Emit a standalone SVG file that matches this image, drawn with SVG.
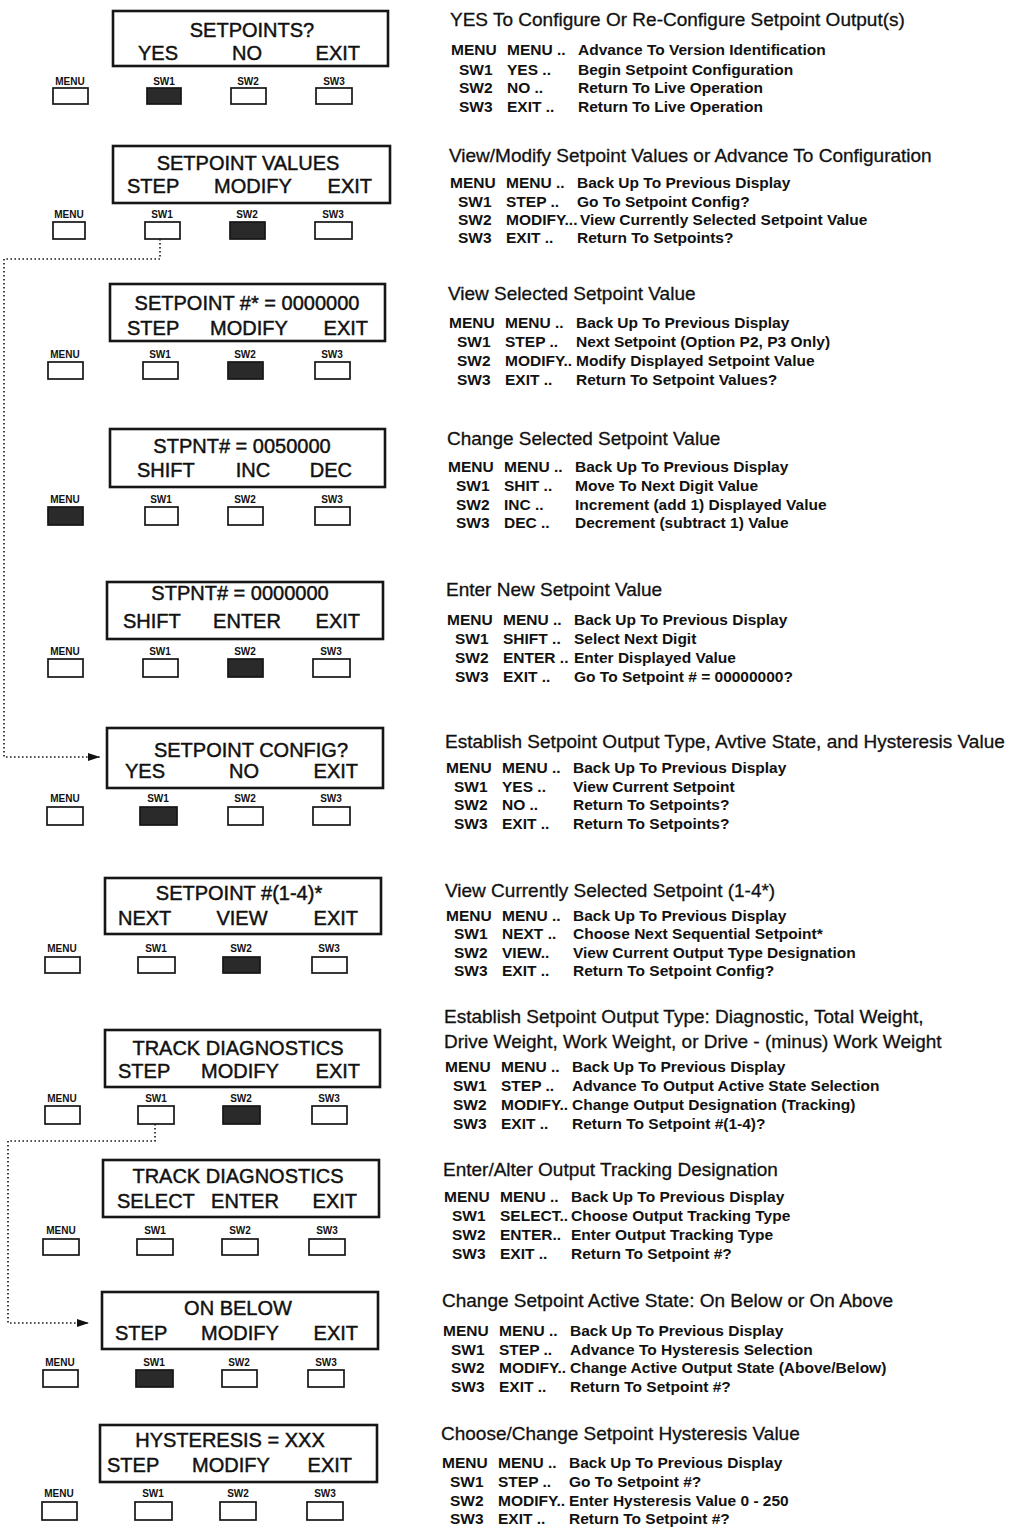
<svg xmlns="http://www.w3.org/2000/svg" width="1010" height="1528" viewBox="0 0 1010 1528">
<style>
.bg{fill:#fff}
.disp{fill:none;stroke:#161616;stroke-width:2.6}
.dt{font-family:"Liberation Sans",Arial,sans-serif;font-size:20px;fill:#111;stroke:#111;stroke-width:0.45}
.mid{text-anchor:middle}
.end{text-anchor:end}
.btn{fill:#fff;stroke:#161616;stroke-width:1.7}
.on{fill:#2a2a2a}
.bl{font-family:"Liberation Sans",Arial,sans-serif;font-size:10px;font-weight:bold;fill:#111;text-anchor:middle}
.h{font-family:"Liberation Sans",Arial,sans-serif;font-size:19px;fill:#111;stroke:#111;stroke-width:0.3}
.r{font-family:"Liberation Sans",Arial,sans-serif;font-size:15.5px;font-weight:bold;fill:#111}
.conn{fill:none;stroke:#222;stroke-width:1.7;stroke-dasharray:1.6 2.4}
</style>
<defs>
<marker id="arr" markerWidth="12" markerHeight="8" refX="12" refY="4" orient="auto" markerUnits="userSpaceOnUse">
<path d="M0,0 L12,4 L0,8 Z" fill="#111"/>
</marker>
</defs>
<rect class="bg" x="0" y="0" width="1010" height="1528"/>

<g id="connectors">
<path class="conn" d="M160,231 V259 H4 V757 H100" marker-end="url(#arr)"/>
<path class="conn" d="M155,1116 V1141 H8 V1323 H89" marker-end="url(#arr)"/>
</g>

<g id="d1">
<rect class="disp" x="113" y="11" width="275" height="55"/>
<text class="dt mid" x="252" y="37">SETPOINTS?</text>
<text class="dt mid" x="158" y="60">YES</text><text class="dt mid" x="247" y="60">NO</text><text class="dt end" x="360" y="60">EXIT</text>
<text class="bl" x="70" y="85">MENU</text><rect class="btn" x="53" y="88" width="35" height="16"/>
<text class="bl" x="164" y="85">SW1</text><rect class="btn on" x="147" y="88" width="34" height="16"/>
<text class="bl" x="248" y="85">SW2</text><rect class="btn" x="231" y="88" width="35" height="16"/>
<text class="bl" x="334" y="85">SW3</text><rect class="btn" x="316" y="88" width="36" height="16"/>
</g>

<g id="d2">
<rect class="disp" x="113" y="146" width="277" height="57"/>
<text class="dt mid" x="248" y="170">SETPOINT VALUES</text>
<text class="dt" x="127" y="193">STEP</text><text class="dt mid" x="253" y="193">MODIFY</text><text class="dt end" x="372" y="193">EXIT</text>
<text class="bl" x="69" y="218">MENU</text><rect class="btn" x="53" y="222" width="32" height="17"/>
<text class="bl" x="162" y="218">SW1</text><rect class="btn" x="145" y="222" width="35" height="17"/>
<text class="bl" x="247" y="218">SW2</text><rect class="btn on" x="230" y="222" width="35" height="17"/>
<text class="bl" x="333" y="218">SW3</text><rect class="btn" x="315" y="222" width="37" height="17"/>
</g>

<g id="d3">
<rect class="disp" x="110" y="284" width="275" height="57"/>
<text class="dt mid" x="247" y="310">SETPOINT #* = 0000000</text>
<text class="dt" x="127" y="335">STEP</text><text class="dt mid" x="249" y="335">MODIFY</text><text class="dt end" x="368" y="335">EXIT</text>
<text class="bl" x="65" y="358">MENU</text><rect class="btn" x="48" y="362" width="35" height="17"/>
<text class="bl" x="160" y="358">SW1</text><rect class="btn" x="143" y="362" width="35" height="17"/>
<text class="bl" x="245" y="358">SW2</text><rect class="btn on" x="228" y="362" width="35" height="17"/>
<text class="bl" x="332" y="358">SW3</text><rect class="btn" x="315" y="362" width="35" height="17"/>
</g>

<g id="d4">
<rect class="disp" x="110" y="429" width="275" height="58"/>
<text class="dt mid" x="242" y="453">STPNT# = 0050000</text>
<text class="dt" x="137" y="477">SHIFT</text><text class="dt mid" x="253" y="477">INC</text><text class="dt end" x="352" y="477">DEC</text>
<text class="bl" x="65" y="503">MENU</text><rect class="btn on" x="48" y="507" width="35" height="18"/>
<text class="bl" x="161" y="503">SW1</text><rect class="btn" x="145" y="507" width="33" height="18"/>
<text class="bl" x="245" y="503">SW2</text><rect class="btn" x="228" y="507" width="35" height="18"/>
<text class="bl" x="332" y="503">SW3</text><rect class="btn" x="315" y="507" width="35" height="18"/>
</g>

<g id="d5">
<rect class="disp" x="107" y="582" width="276" height="57"/>
<text class="dt mid" x="240" y="600">STPNT# = 0000000</text>
<text class="dt" x="123" y="628">SHIFT</text><text class="dt mid" x="247" y="628">ENTER</text><text class="dt end" x="360" y="628">EXIT</text>
<text class="bl" x="65" y="655">MENU</text><rect class="btn" x="48" y="659" width="35" height="18"/>
<text class="bl" x="160" y="655">SW1</text><rect class="btn" x="143" y="659" width="35" height="18"/>
<text class="bl" x="245" y="655">SW2</text><rect class="btn on" x="228" y="659" width="35" height="18"/>
<text class="bl" x="331" y="655">SW3</text><rect class="btn" x="313" y="659" width="37" height="18"/>
</g>

<g id="d6">
<rect class="disp" x="107" y="728" width="276" height="60"/>
<text class="dt mid" x="251" y="757">SETPOINT CONFIG?</text>
<text class="dt" x="125" y="778">YES</text><text class="dt mid" x="244" y="778">NO</text><text class="dt end" x="358" y="778">EXIT</text>
<text class="bl" x="65" y="802">MENU</text><rect class="btn" x="47" y="807" width="36" height="18"/>
<text class="bl" x="158" y="802">SW1</text><rect class="btn on" x="140" y="807" width="37" height="18"/>
<text class="bl" x="245" y="802">SW2</text><rect class="btn" x="228" y="807" width="35" height="18"/>
<text class="bl" x="331" y="802">SW3</text><rect class="btn" x="313" y="807" width="37" height="18"/>
</g>

<g id="d7">
<rect class="disp" x="105" y="878" width="276" height="56"/>
<text class="dt mid" x="239" y="900">SETPOINT #(1-4)*</text>
<text class="dt" x="118" y="925">NEXT</text><text class="dt mid" x="242" y="925">VIEW</text><text class="dt end" x="358" y="925">EXIT</text>
<text class="bl" x="62" y="952">MENU</text><rect class="btn" x="45" y="957" width="35" height="16"/>
<text class="bl" x="156" y="952">SW1</text><rect class="btn" x="138" y="957" width="37" height="16"/>
<text class="bl" x="241" y="952">SW2</text><rect class="btn on" x="223" y="957" width="37" height="16"/>
<text class="bl" x="329" y="952">SW3</text><rect class="btn" x="312" y="957" width="35" height="16"/>
</g>

<g id="d8">
<rect class="disp" x="105" y="1030" width="275" height="57"/>
<text class="dt mid" x="238" y="1055">TRACK DIAGNOSTICS</text>
<text class="dt" x="118" y="1078">STEP</text><text class="dt mid" x="240" y="1078">MODIFY</text><text class="dt end" x="360" y="1078">EXIT</text>
<text class="bl" x="62" y="1102">MENU</text><rect class="btn" x="45" y="1106" width="35" height="18"/>
<text class="bl" x="156" y="1102">SW1</text><rect class="btn" x="138" y="1106" width="36" height="18"/>
<text class="bl" x="241" y="1102">SW2</text><rect class="btn on" x="223" y="1106" width="37" height="18"/>
<text class="bl" x="329" y="1102">SW3</text><rect class="btn" x="312" y="1106" width="35" height="18"/>
</g>

<g id="d9">
<rect class="disp" x="103" y="1160" width="276" height="57"/>
<text class="dt mid" x="238" y="1183">TRACK DIAGNOSTICS</text>
<text class="dt" x="117" y="1208">SELECT</text><text class="dt mid" x="245" y="1208">ENTER</text><text class="dt end" x="357" y="1208">EXIT</text>
<text class="bl" x="61" y="1234">MENU</text><rect class="btn" x="43" y="1239" width="36" height="16"/>
<text class="bl" x="155" y="1234">SW1</text><rect class="btn" x="137" y="1239" width="36" height="16"/>
<text class="bl" x="240" y="1234">SW2</text><rect class="btn" x="222" y="1239" width="36" height="16"/>
<text class="bl" x="327" y="1234">SW3</text><rect class="btn" x="309" y="1239" width="36" height="16"/>
</g>

<g id="d10">
<rect class="disp" x="102" y="1292" width="276" height="57"/>
<text class="dt mid" x="238" y="1315">ON BELOW</text>
<text class="dt" x="115" y="1340">STEP</text><text class="dt mid" x="240" y="1340">MODIFY</text><text class="dt end" x="358" y="1340">EXIT</text>
<text class="bl" x="60" y="1366">MENU</text><rect class="btn" x="43" y="1370" width="35" height="17"/>
<text class="bl" x="154" y="1366">SW1</text><rect class="btn on" x="136" y="1370" width="37" height="17"/>
<text class="bl" x="239" y="1366">SW2</text><rect class="btn" x="222" y="1370" width="35" height="17"/>
<text class="bl" x="326" y="1366">SW3</text><rect class="btn" x="308" y="1370" width="36" height="17"/>
</g>

<g id="d11">
<rect class="disp" x="100" y="1425" width="277" height="57"/>
<text class="dt mid" x="230" y="1447">HYSTERESIS = XXX</text>
<text class="dt" x="107" y="1472">STEP</text><text class="dt mid" x="231" y="1472">MODIFY</text><text class="dt end" x="352" y="1472">EXIT</text>
<text class="bl" x="59" y="1497">MENU</text><rect class="btn" x="42" y="1502" width="35" height="18"/>
<text class="bl" x="153" y="1497">SW1</text><rect class="btn" x="135" y="1502" width="37" height="18"/>
<text class="bl" x="238" y="1497">SW2</text><rect class="btn" x="220" y="1502" width="36" height="18"/>
<text class="bl" x="325" y="1497">SW3</text><rect class="btn" x="307" y="1502" width="36" height="18"/>
</g>

<g id="b1" transform="translate(450,0)">
<text class="h" x="0" y="26">YES To Configure Or Re-Configure Setpoint Output(s)</text>
<text class="r" x="1" y="55">MENU</text><text class="r" x="57" y="55">MENU ..</text><text class="r" x="128" y="55">Advance To Version Identification</text>
<text class="r" x="9" y="75">SW1</text><text class="r" x="57" y="75">YES ..</text><text class="r" x="128" y="75">Begin Setpoint Configuration</text>
<text class="r" x="9" y="93">SW2</text><text class="r" x="57" y="93">NO ..</text><text class="r" x="128" y="93">Return To Live Operation</text>
<text class="r" x="9" y="112">SW3</text><text class="r" x="57" y="112">EXIT ..</text><text class="r" x="128" y="112">Return To Live Operation</text>
</g>

<g id="b2" transform="translate(449,0)">
<text class="h" x="0" y="162">View/Modify Setpoint Values or Advance To Configuration</text>
<text class="r" x="1" y="188">MENU</text><text class="r" x="57" y="188">MENU ..</text><text class="r" x="128" y="188">Back Up To Previous Display</text>
<text class="r" x="9" y="207">SW1</text><text class="r" x="57" y="207">STEP ..</text><text class="r" x="128" y="207">Go To Setpoint Config?</text>
<text class="r" x="9" y="225">SW2</text><text class="r" x="57" y="225">MODIFY...</text><text class="r" x="131" y="225">View Currently Selected Setpoint Value</text>
<text class="r" x="9" y="243">SW3</text><text class="r" x="57" y="243">EXIT ..</text><text class="r" x="128" y="243">Return To Setpoints?</text>
</g>

<g id="b3" transform="translate(448,0)">
<text class="h" x="0" y="300">View Selected Setpoint Value</text>
<text class="r" x="1" y="328">MENU</text><text class="r" x="57" y="328">MENU ..</text><text class="r" x="128" y="328">Back Up To Previous Display</text>
<text class="r" x="9" y="347">SW1</text><text class="r" x="57" y="347">STEP ..</text><text class="r" x="128" y="347">Next Setpoint (Option P2, P3 Only)</text>
<text class="r" x="9" y="366">SW2</text><text class="r" x="57" y="366">MODIFY..</text><text class="r" x="128" y="366">Modify Displayed Setpoint Value</text>
<text class="r" x="9" y="385">SW3</text><text class="r" x="57" y="385">EXIT ..</text><text class="r" x="128" y="385">Return To Setpoint Values?</text>
</g>

<g id="b4" transform="translate(447,0)">
<text class="h" x="0" y="445">Change Selected Setpoint Value</text>
<text class="r" x="1" y="472">MENU</text><text class="r" x="57" y="472">MENU ..</text><text class="r" x="128" y="472">Back Up To Previous Display</text>
<text class="r" x="9" y="491">SW1</text><text class="r" x="57" y="491">SHIT ..</text><text class="r" x="128" y="491">Move To Next Digit Value</text>
<text class="r" x="9" y="510">SW2</text><text class="r" x="57" y="510">INC ..</text><text class="r" x="128" y="510">Increment (add 1) Displayed Value</text>
<text class="r" x="9" y="528">SW3</text><text class="r" x="57" y="528">DEC ..</text><text class="r" x="128" y="528">Decrement (subtract 1) Value</text>
</g>

<g id="b5" transform="translate(446,0)">
<text class="h" x="0" y="596">Enter New Setpoint Value</text>
<text class="r" x="1" y="625">MENU</text><text class="r" x="57" y="625">MENU ..</text><text class="r" x="128" y="625">Back Up To Previous Display</text>
<text class="r" x="9" y="644">SW1</text><text class="r" x="57" y="644">SHIFT ..</text><text class="r" x="128" y="644">Select Next Digit</text>
<text class="r" x="9" y="663">SW2</text><text class="r" x="57" y="663">ENTER ..</text><text class="r" x="128" y="663">Enter Displayed Value</text>
<text class="r" x="9" y="682">SW3</text><text class="r" x="57" y="682">EXIT ..</text><text class="r" x="128" y="682">Go To Setpoint # = 00000000?</text>
</g>

<g id="b6" transform="translate(445,0)">
<text class="h" x="0" y="748">Establish Setpoint Output Type, Avtive State, and Hysteresis Value</text>
<text class="r" x="1" y="773">MENU</text><text class="r" x="57" y="773">MENU ..</text><text class="r" x="128" y="773">Back Up To Previous Display</text>
<text class="r" x="9" y="792">SW1</text><text class="r" x="57" y="792">YES ..</text><text class="r" x="128" y="792">View Current Setpoint</text>
<text class="r" x="9" y="810">SW2</text><text class="r" x="57" y="810">NO ..</text><text class="r" x="128" y="810">Return To Setpoints?</text>
<text class="r" x="9" y="829">SW3</text><text class="r" x="57" y="829">EXIT ..</text><text class="r" x="128" y="829">Return To Setpoints?</text>
</g>

<g id="b7" transform="translate(445,0)">
<text class="h" x="0" y="897">View Currently Selected Setpoint (1-4*)</text>
<text class="r" x="1" y="921">MENU</text><text class="r" x="57" y="921">MENU ..</text><text class="r" x="128" y="921">Back Up To Previous Display</text>
<text class="r" x="9" y="939">SW1</text><text class="r" x="57" y="939">NEXT ..</text><text class="r" x="128" y="939">Choose Next Sequential Setpoint*</text>
<text class="r" x="9" y="958">SW2</text><text class="r" x="57" y="958">VIEW..</text><text class="r" x="128" y="958">View Current Output Type Designation</text>
<text class="r" x="9" y="976">SW3</text><text class="r" x="57" y="976">EXIT ..</text><text class="r" x="128" y="976">Return To Setpoint Config?</text>
</g>

<g id="b8" transform="translate(444,0)">
<text class="h" x="0" y="1023">Establish Setpoint Output Type: Diagnostic, Total Weight,</text>
<text class="h" x="0" y="1048">Drive Weight, Work Weight, or Drive - (minus) Work Weight</text>
<text class="r" x="1" y="1072">MENU</text><text class="r" x="57" y="1072">MENU ..</text><text class="r" x="128" y="1072">Back Up To Previous Display</text>
<text class="r" x="9" y="1091">SW1</text><text class="r" x="57" y="1091">STEP ..</text><text class="r" x="128" y="1091">Advance To Output Active State Selection</text>
<text class="r" x="9" y="1110">SW2</text><text class="r" x="57" y="1110">MODIFY..</text><text class="r" x="128" y="1110">Change Output Designation (Tracking)</text>
<text class="r" x="9" y="1129">SW3</text><text class="r" x="57" y="1129">EXIT ..</text><text class="r" x="128" y="1129">Return To Setpoint #(1-4)?</text>
</g>

<g id="b9" transform="translate(443,0)">
<text class="h" x="0" y="1176">Enter/Alter Output Tracking Designation</text>
<text class="r" x="1" y="1202">MENU</text><text class="r" x="57" y="1202">MENU ..</text><text class="r" x="128" y="1202">Back Up To Previous Display</text>
<text class="r" x="9" y="1221">SW1</text><text class="r" x="57" y="1221">SELECT..</text><text class="r" x="128" y="1221">Choose Output Tracking Type</text>
<text class="r" x="9" y="1240">SW2</text><text class="r" x="57" y="1240">ENTER..</text><text class="r" x="128" y="1240">Enter Output Tracking Type</text>
<text class="r" x="9" y="1259">SW3</text><text class="r" x="57" y="1259">EXIT ..</text><text class="r" x="128" y="1259">Return To Setpoint #?</text>
</g>

<g id="b10" transform="translate(442,0)">
<text class="h" x="0" y="1307">Change Setpoint Active State: On Below or On Above</text>
<text class="r" x="1" y="1336">MENU</text><text class="r" x="57" y="1336">MENU ..</text><text class="r" x="128" y="1336">Back Up To Previous Display</text>
<text class="r" x="9" y="1355">SW1</text><text class="r" x="57" y="1355">STEP ..</text><text class="r" x="128" y="1355">Advance To Hysteresis Selection</text>
<text class="r" x="9" y="1373">SW2</text><text class="r" x="57" y="1373">MODIFY..</text><text class="r" x="128" y="1373">Change Active Output State (Above/Below)</text>
<text class="r" x="9" y="1392">SW3</text><text class="r" x="57" y="1392">EXIT ..</text><text class="r" x="128" y="1392">Return To Setpoint #?</text>
</g>

<g id="b11" transform="translate(441,0)">
<text class="h" x="0" y="1440">Choose/Change Setpoint Hysteresis Value</text>
<text class="r" x="1" y="1468">MENU</text><text class="r" x="57" y="1468">MENU ..</text><text class="r" x="128" y="1468">Back Up To Previous Display</text>
<text class="r" x="9" y="1487">SW1</text><text class="r" x="57" y="1487">STEP ..</text><text class="r" x="128" y="1487">Go To Setpoint #?</text>
<text class="r" x="9" y="1506">SW2</text><text class="r" x="57" y="1506">MODIFY..</text><text class="r" x="128" y="1506">Enter Hysteresis Value 0 - 250</text>
<text class="r" x="9" y="1524">SW3</text><text class="r" x="57" y="1524">EXIT ..</text><text class="r" x="128" y="1524">Return To Setpoint #?</text>
</g>
</svg>
